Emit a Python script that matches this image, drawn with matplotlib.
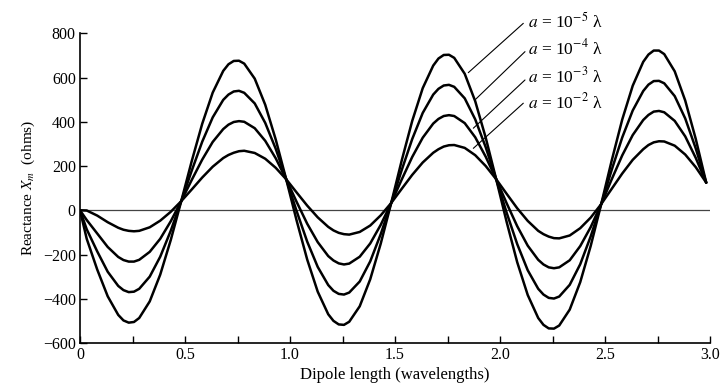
import matplotlib
matplotlib.use("Agg")
import matplotlib.pyplot as plt

plt.rcParams['font.family'] = ['Liberation Serif', 'DejaVu Serif']
plt.rcParams['mathtext.fontset'] = 'stix'

# Dipole length (wavelengths) at which values were read
length = [0.0, 0.032, 0.082, 0.132, 0.182, 0.207, 0.232, 0.257, 0.282, 0.332, 0.382, 0.432, 0.482,
          0.532, 0.582, 0.632, 0.682, 0.707, 0.732, 0.757, 0.782, 0.832, 0.882, 0.932, 0.982,
          1.032, 1.082, 1.132, 1.182, 1.207, 1.232, 1.257, 1.282, 1.332, 1.382, 1.432, 1.482,
          1.532, 1.582, 1.632, 1.682, 1.707, 1.732, 1.757, 1.782, 1.832, 1.882, 1.932, 1.982,
          2.032, 2.082, 2.132, 2.182, 2.207, 2.232, 2.257, 2.282, 2.332, 2.382, 2.432, 2.482,
          2.532, 2.582, 2.632, 2.682, 2.707, 2.732, 2.757, 2.782, 2.832, 2.882, 2.932, 2.982]

x_a1e5 = [0, -129, -268, -389, -473, -498, -508, -505, -487, -412, -291, -135, 41,
          222, 391, 532, 630, 660, 675, 676, 663, 595, 477, 320, 140,
          -48, -223, -368, -470, -500, -516, -518, -504, -434, -312, -151, 33,
          225, 404, 552, 654, 686, 702, 703, 689, 617, 493, 328, 140,
          -54, -235, -383, -487, -518, -534, -535, -521, -449, -325, -161, 28,
          225, 410, 563, 671, 704, 722, 722, 706, 628, 496, 323, 125]
x_a1e4 = [0, -86, -186, -278, -342, -361, -370, -368, -355, -300, -210, -93, 41,
          179, 310, 420, 499, 523, 537, 540, 531, 483, 395, 278, 140,
          -5, -142, -256, -338, -364, -378, -381, -372, -322, -231, -108, 33,
          182, 322, 440, 523, 549, 564, 567, 558, 506, 411, 285, 140,
          -12, -153, -271, -355, -381, -396, -399, -390, -337, -244, -118, 28,
          183, 329, 451, 539, 568, 584, 585, 574, 516, 415, 280, 125]
x_a1e3 = [0, -44, -105, -166, -211, -225, -232, -232, -224, -188, -129, -50, 41,
          137, 229, 309, 367, 387, 399, 403, 400, 371, 314, 235, 140,
          37, -61, -144, -207, -227, -240, -245, -241, -210, -150, -66, 33,
          139, 241, 328, 392, 413, 426, 430, 426, 394, 330, 242, 140,
          31, -72, -160, -224, -245, -258, -262, -258, -226, -162, -76, 28,
          140, 248, 340, 408, 431, 446, 449, 443, 404, 334, 237, 125]
x_a1e2 = [0, -1, -24, -54, -79, -88, -93, -95, -93, -77, -47, -7, 41,
          94, 148, 197, 236, 250, 260, 267, 269, 259, 233, 192, 140,
          80, 21, -32, -75, -91, -102, -108, -110, -98, -69, -23, 33,
          97, 160, 216, 260, 276, 288, 294, 295, 282, 249, 200, 140,
          74, 9, -48, -93, -108, -119, -126, -127, -114, -81, -33, 28,
          97, 166, 228, 276, 295, 307, 312, 311, 292, 252, 195, 125]

series = [x_a1e5, x_a1e4, x_a1e3, x_a1e2]
labels = [r"$a$ = 10$^{-5}$ λ", r"$a$ = 10$^{-4}$ λ", r"$a$ = 10$^{-3}$ λ", r"$a$ = 10$^{-2}$ λ"]
# label text anchor (data coords) and leader line end on curve
label_pos = [(2.133, 853), (2.133, 730), (2.133, 606), (2.133, 487)]
leader_start = [(2.111, 845), (2.119, 717), (2.119, 589), (2.111, 484)]
leader_end = [(1.849, 622), (1.881, 499), (1.873, 371), (1.873, 280)]

xticks_major = [0, 0.5, 1.0, 1.5, 2.0, 2.5, 3.0]
xtick_labels = ["0", "0.5", "1.0", "1.5", "2.0", "2.5", "3.0"]
xticks_minor = [0.25, 0.75, 1.25, 1.75, 2.25, 2.75]
yticks = [-600, -400, -200, 0, 200, 400, 600, 800]
ytick_labels = ["\u2212600", "\u2212400", "\u2212200", "0", "200", "400", "600", "800"]

fig = plt.figure(figsize=(7.2, 3.87), dpi=100)
ax = fig.add_axes([80/720, 1-343/387, 630/720, (343-33.3)/387])

ax.axhline(0, color='#444444', lw=0.9, zorder=1)
for ys in series:
    ax.plot(length, ys, color='black', lw=1.8, solid_capstyle='round',
            solid_joinstyle='round', zorder=3)

for lab, tp, ls, le in zip(labels, label_pos, leader_start, leader_end):
    ax.annotate("", xy=le, xytext=ls, annotation_clip=False,
                arrowprops=dict(arrowstyle='-', color='black', lw=0.8,
                                shrinkA=0, shrinkB=0))
    ax.text(tp[0], tp[1], lab, fontsize=12.5, ha='left', va='center', clip_on=False)

ax.set_xlim(0, 3.0)
ax.set_ylim(-600, 800)
ax.set_xticks(xticks_major)
ax.set_xticklabels(xtick_labels)
ax.set_xticks(xticks_minor, minor=True)
ax.set_yticks(yticks)
ax.set_yticklabels(ytick_labels)
ax.tick_params(axis='both', which='both', direction='in', length=5, width=1,
               labelsize=11.5, colors='black')
ax.tick_params(axis='x', pad=3)
ax.tick_params(axis='y', pad=3)
for s in ['top', 'right']:
    ax.spines[s].set_visible(False)
for s in ['left', 'bottom']:
    ax.spines[s].set_linewidth(1.2)

ax.set_xlabel("Dipole length (wavelengths)", fontsize=12, labelpad=3)
ax.set_ylabel(r"Reactance $X_m$  (ohms)", fontsize=11, labelpad=4)

fig.savefig("out.png", dpi=100)
